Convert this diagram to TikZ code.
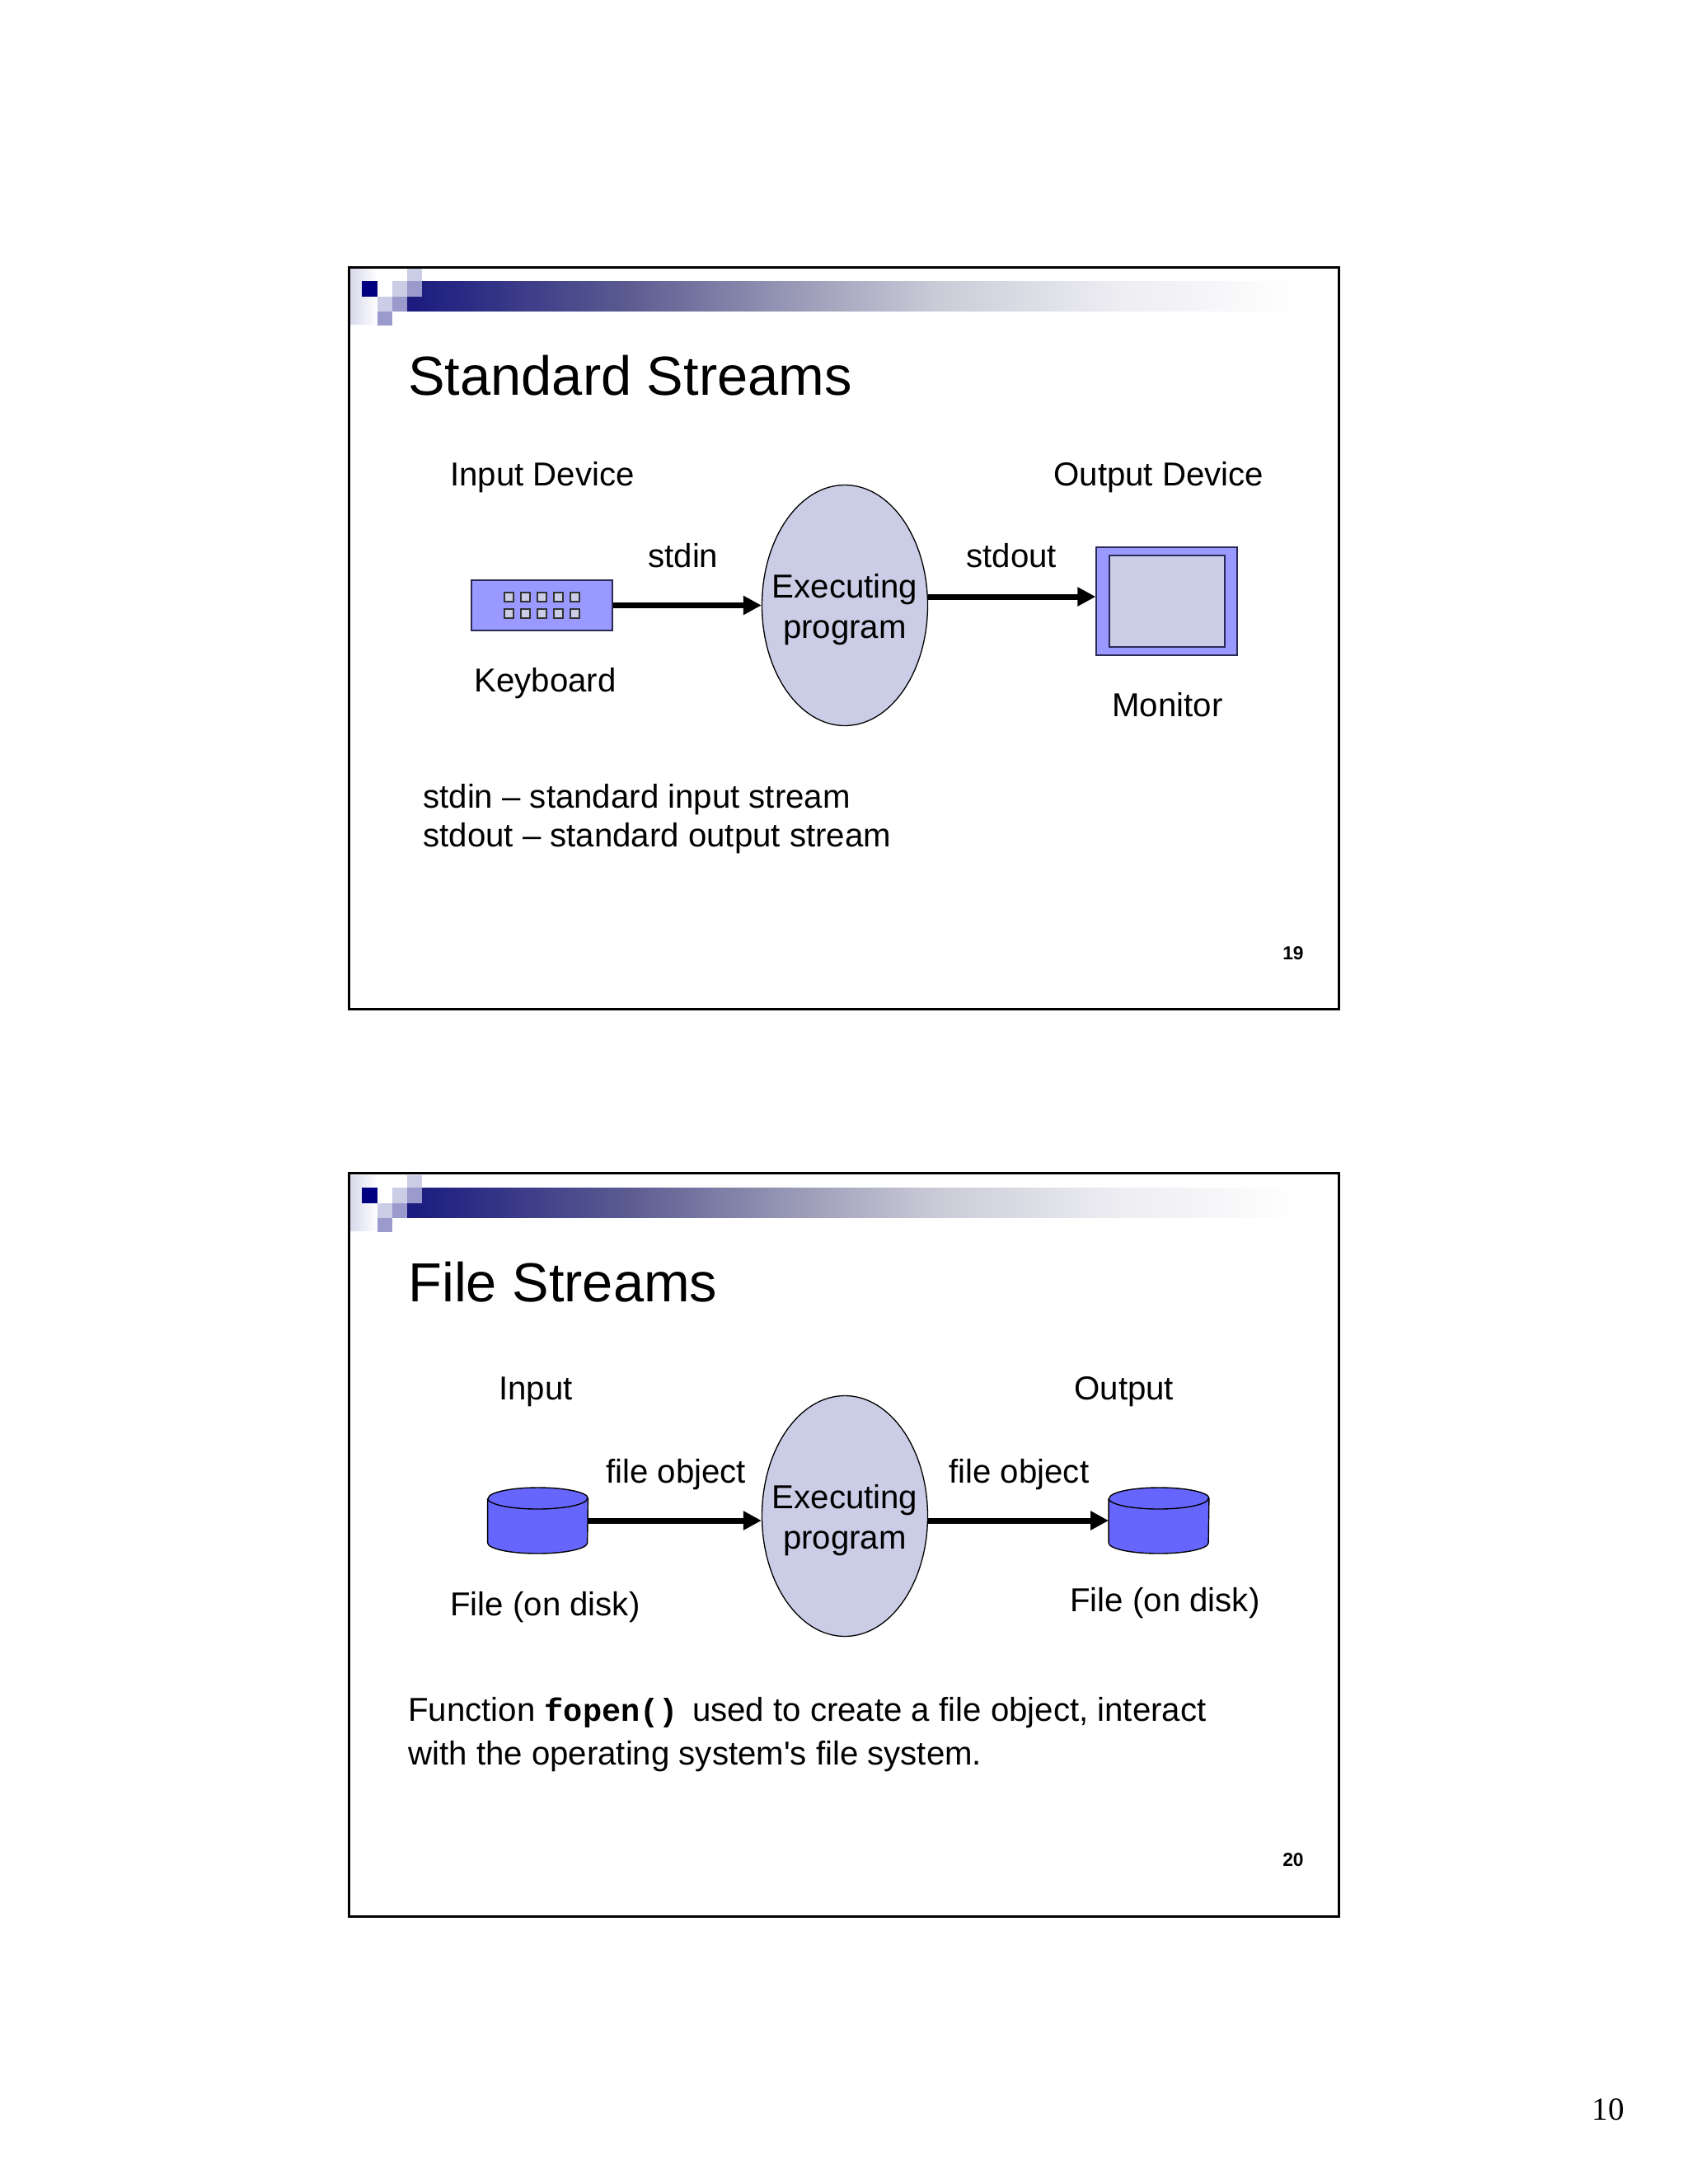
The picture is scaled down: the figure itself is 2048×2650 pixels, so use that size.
\documentclass[tikz,border=0pt]{standalone}
\usepackage{fontspec}
\setmainfont{Liberation Sans}
\setmonofont{Liberation Mono}
\newfontfamily\timesfam{Liberation Serif}
\newfontfamily\plainsans{Liberation Sans}
\usetikzlibrary{shapes.geometric,arrows.meta,calc}
\definecolor{frameblue}{HTML}{9999FF}
\definecolor{palelav}{HTML}{CBCDE6}
\definecolor{midlav}{HTML}{9A9ACC}
\definecolor{darknavy}{HTML}{000080}
\definecolor{diskblue}{HTML}{6666FF}
\definecolor{edgeblue}{HTML}{2A2A55}
\pgfdeclarehorizontalshading{barfade}{100bp}{%
  rgb(0bp)=(0.10,0.10,0.50);
  rgb(25bp)=(0.10,0.10,0.50);
  rgb(37.5bp)=(0.36,0.36,0.57);
  rgb(47.5bp)=(0.62,0.62,0.73);
  rgb(55bp)=(0.80,0.80,0.85);
  rgb(65bp)=(0.93,0.93,0.95);
  rgb(75bp)=(1,1,1);
  rgb(100bp)=(1,1,1)}
\tikzset{
  slideframe/.style={draw=black,line width=1.5pt,fill=white},
  titletext/.style={anchor=base west,inner sep=0pt,font=\fontsize{33.4pt}{36pt}\selectfont},
  bodytext/.style={anchor=base west,inner sep=0pt,font=\fontsize{20.1pt}{24pt}\selectfont},
  centertext/.style={anchor=base,inner sep=0pt,font=\fontsize{20.1pt}{24pt}\selectfont},
  numtext/.style={anchor=base east,inner sep=0pt,font=\fontsize{11.4pt}{13pt}\selectfont\bfseries},
  execnode/.style={draw=black,line width=0.65pt,fill=palelav,shape=ellipse,inner sep=0pt,minimum width=100.5pt,minimum height=146pt},
  flowarrow/.style={draw=black,line width=3.5pt,-{Triangle[length=11pt,width=11pt]},shorten >=0pt},
  keybody/.style={draw=edgeblue,line width=0.6pt,fill=frameblue,inner sep=0pt,minimum width=85.5pt,minimum height=30.5pt},
  keycap/.style={draw=black!80,line width=0.6pt,fill=palelav,inner sep=0pt,minimum size=5.5pt},
  monbody/.style={draw=edgeblue,line width=0.7pt,fill=frameblue,inner sep=0pt,minimum width=85.5pt,minimum height=65.5pt},
  monscreen/.style={draw=edgeblue,line width=0.6pt,fill=palelav,inner sep=0pt,minimum width=70pt,minimum height=55.5pt},
  diskbox/.style={inner sep=0pt,minimum width=60.5pt,minimum height=40pt},
  diskline/.style={draw=black,line width=0.7pt,fill=diskblue},
  squaredark/.style={fill=darknavy},
  squarepale/.style={fill=palelav},
  squaremid/.style={fill=midlav}
}
\newcommand{\slidedeco}[1]{%
  \fill[left color=palelav!75,right color=white] (425,#1+2) rectangle (458,#1+69);
  \shade[shading=barfade] (493,#1+17) rectangle (1575,#1+53);
  \fill[squaredark] (439,#1+17) rectangle (458,#1+36);
  \fill[white] (458,#1+17) rectangle (476,#1+36);
  \fill[squarepale] (476,#1+17) rectangle (494,#1+36);
  \fill[squaremid] (494,#1+17) rectangle (512,#1+36);
  \fill[squarepale] (494,#1+2) rectangle (512,#1+17);
  \fill[squarepale] (458,#1+36) rectangle (476,#1+54);
  \fill[squaremid] (476,#1+36) rectangle (494,#1+54);
  \fill[squaremid] (458,#1+54) rectangle (476,#1+71);
}
% a disk drawn on the frame of its named box
\newcommand{\drawdisk}[1]{%
  \draw[diskline] ([yshift=13.5pt]#1.west) -- ([yshift=-13.5pt]#1.west)
     arc[start angle=180,end angle=360,x radius=30.25pt,y radius=6.5pt]
     -- ([yshift=13.5pt]#1.east)
     arc[start angle=0,end angle=180,x radius=30.25pt,y radius=6.5pt];
  \draw[draw=black,line width=0.7pt] ([yshift=13.5pt]#1.west)
     arc[start angle=180,end angle=360,x radius=30.25pt,y radius=6.5pt];
}
\begin{document}
\begin{tikzpicture}[x=0.5pt,y=-0.5pt]
\useasboundingbox (0,0) rectangle (2048,2650);
\fill[white] (0,0) rectangle (2048,2650);
% ---- slide 19
\draw[slideframe] (423,324) rectangle (1624,1224);
\slidedeco{324}
\node[titletext] (title1) at (495,479) {Standard Streams};
\node[bodytext] (indev) at (546,589) {Input Device};
\node[bodytext] (outdev) at (1278,589) {Output Device};
\node[execnode] (exec1) at (1025,734.5) {};
\node[centertext] (exec1a) at (1025,725) {Executing};
\node[centertext] (exec1b) at (1025,774) {program};
\node[keybody] (kbd) at (657.5,734.5) {};
\foreach \r/\yy in {a/724.5,b/744.5}{
  \foreach \c/\xx in {1/617.5,2/637.5,3/657.5,4/677.5,5/697.5}{
    \node[keycap] (key\r\c) at (\xx,\yy) {};
  }
}
\node[monbody] (mon) at (1415.5,729.5) {};
\node[monscreen] (screen) at (1416,729.5) {};
\coordinate (outlevel) at (0,724);
\draw[flowarrow] (kbd.east) -- (exec1.west);
\draw[flowarrow] (exec1.east |- outlevel) -- (mon.west |- outlevel);
\node[bodytext] (stdinlab) at (786,688) {stdin};
\node[bodytext] (stdoutlab) at (1172,688) {stdout};
\node[bodytext] (kbdlab) at (575,839) {Keyboard};
\node[bodytext] (monlab) at (1349,869) {Monitor};
\node[bodytext] (line1a) at (513,980) {stdin – standard input stream};
\node[bodytext] (line1b) at (513,1027) {stdout – standard output stream};
\node[numtext] (num19) at (1582,1164) {19};
% ---- slide 20
\draw[slideframe] (423,1423) rectangle (1624,2325);
\slidedeco{1424}
\node[titletext] (title2) at (495,1579) {File Streams};
\node[bodytext] (inlab) at (605,1698) {Input};
\node[bodytext] (outlab) at (1303,1698) {Output};
\node[execnode] (exec2) at (1025,1839.5) {};
\node[centertext] (exec2a) at (1025,1830) {Executing};
\node[centertext] (exec2b) at (1025,1879) {program};
\node[diskbox] (diskL) at (652.5,1845) {};
\node[diskbox] (diskR) at (1406,1845) {};
\drawdisk{diskL}
\drawdisk{diskR}
\draw[flowarrow] (diskL.east) -- (exec2.west |- diskL.east);
\draw[flowarrow] (exec2.east |- diskR.west) -- (diskR.west);
\node[bodytext] (fo1) at (735,1799) {file object};
\node[bodytext] (fo2) at (1151,1799) {file object};
\node[bodytext] (fd1) at (546,1960) {File (on disk)};
\node[bodytext] (fd2) at (1298,1955) {File (on disk)};
\node[bodytext] (fn1) at (495,2088) {Function {\fontsize{19.3pt}{20pt}\selectfont\ttfamily\bfseries fopen()}\hspace{3pt} used to create a file object, interact};
\node[bodytext] (fn2) at (495,2141) {\plainsans with the operating system's file system.};
\node[numtext] (num20) at (1582,2264) {20};
% ---- page number
\node[anchor=base east,inner sep=0pt,font=\timesfam\fontsize{19.5pt}{22pt}\selectfont] (pagenum) at (1971,2572) {10};
\end{tikzpicture}
\end{document}
